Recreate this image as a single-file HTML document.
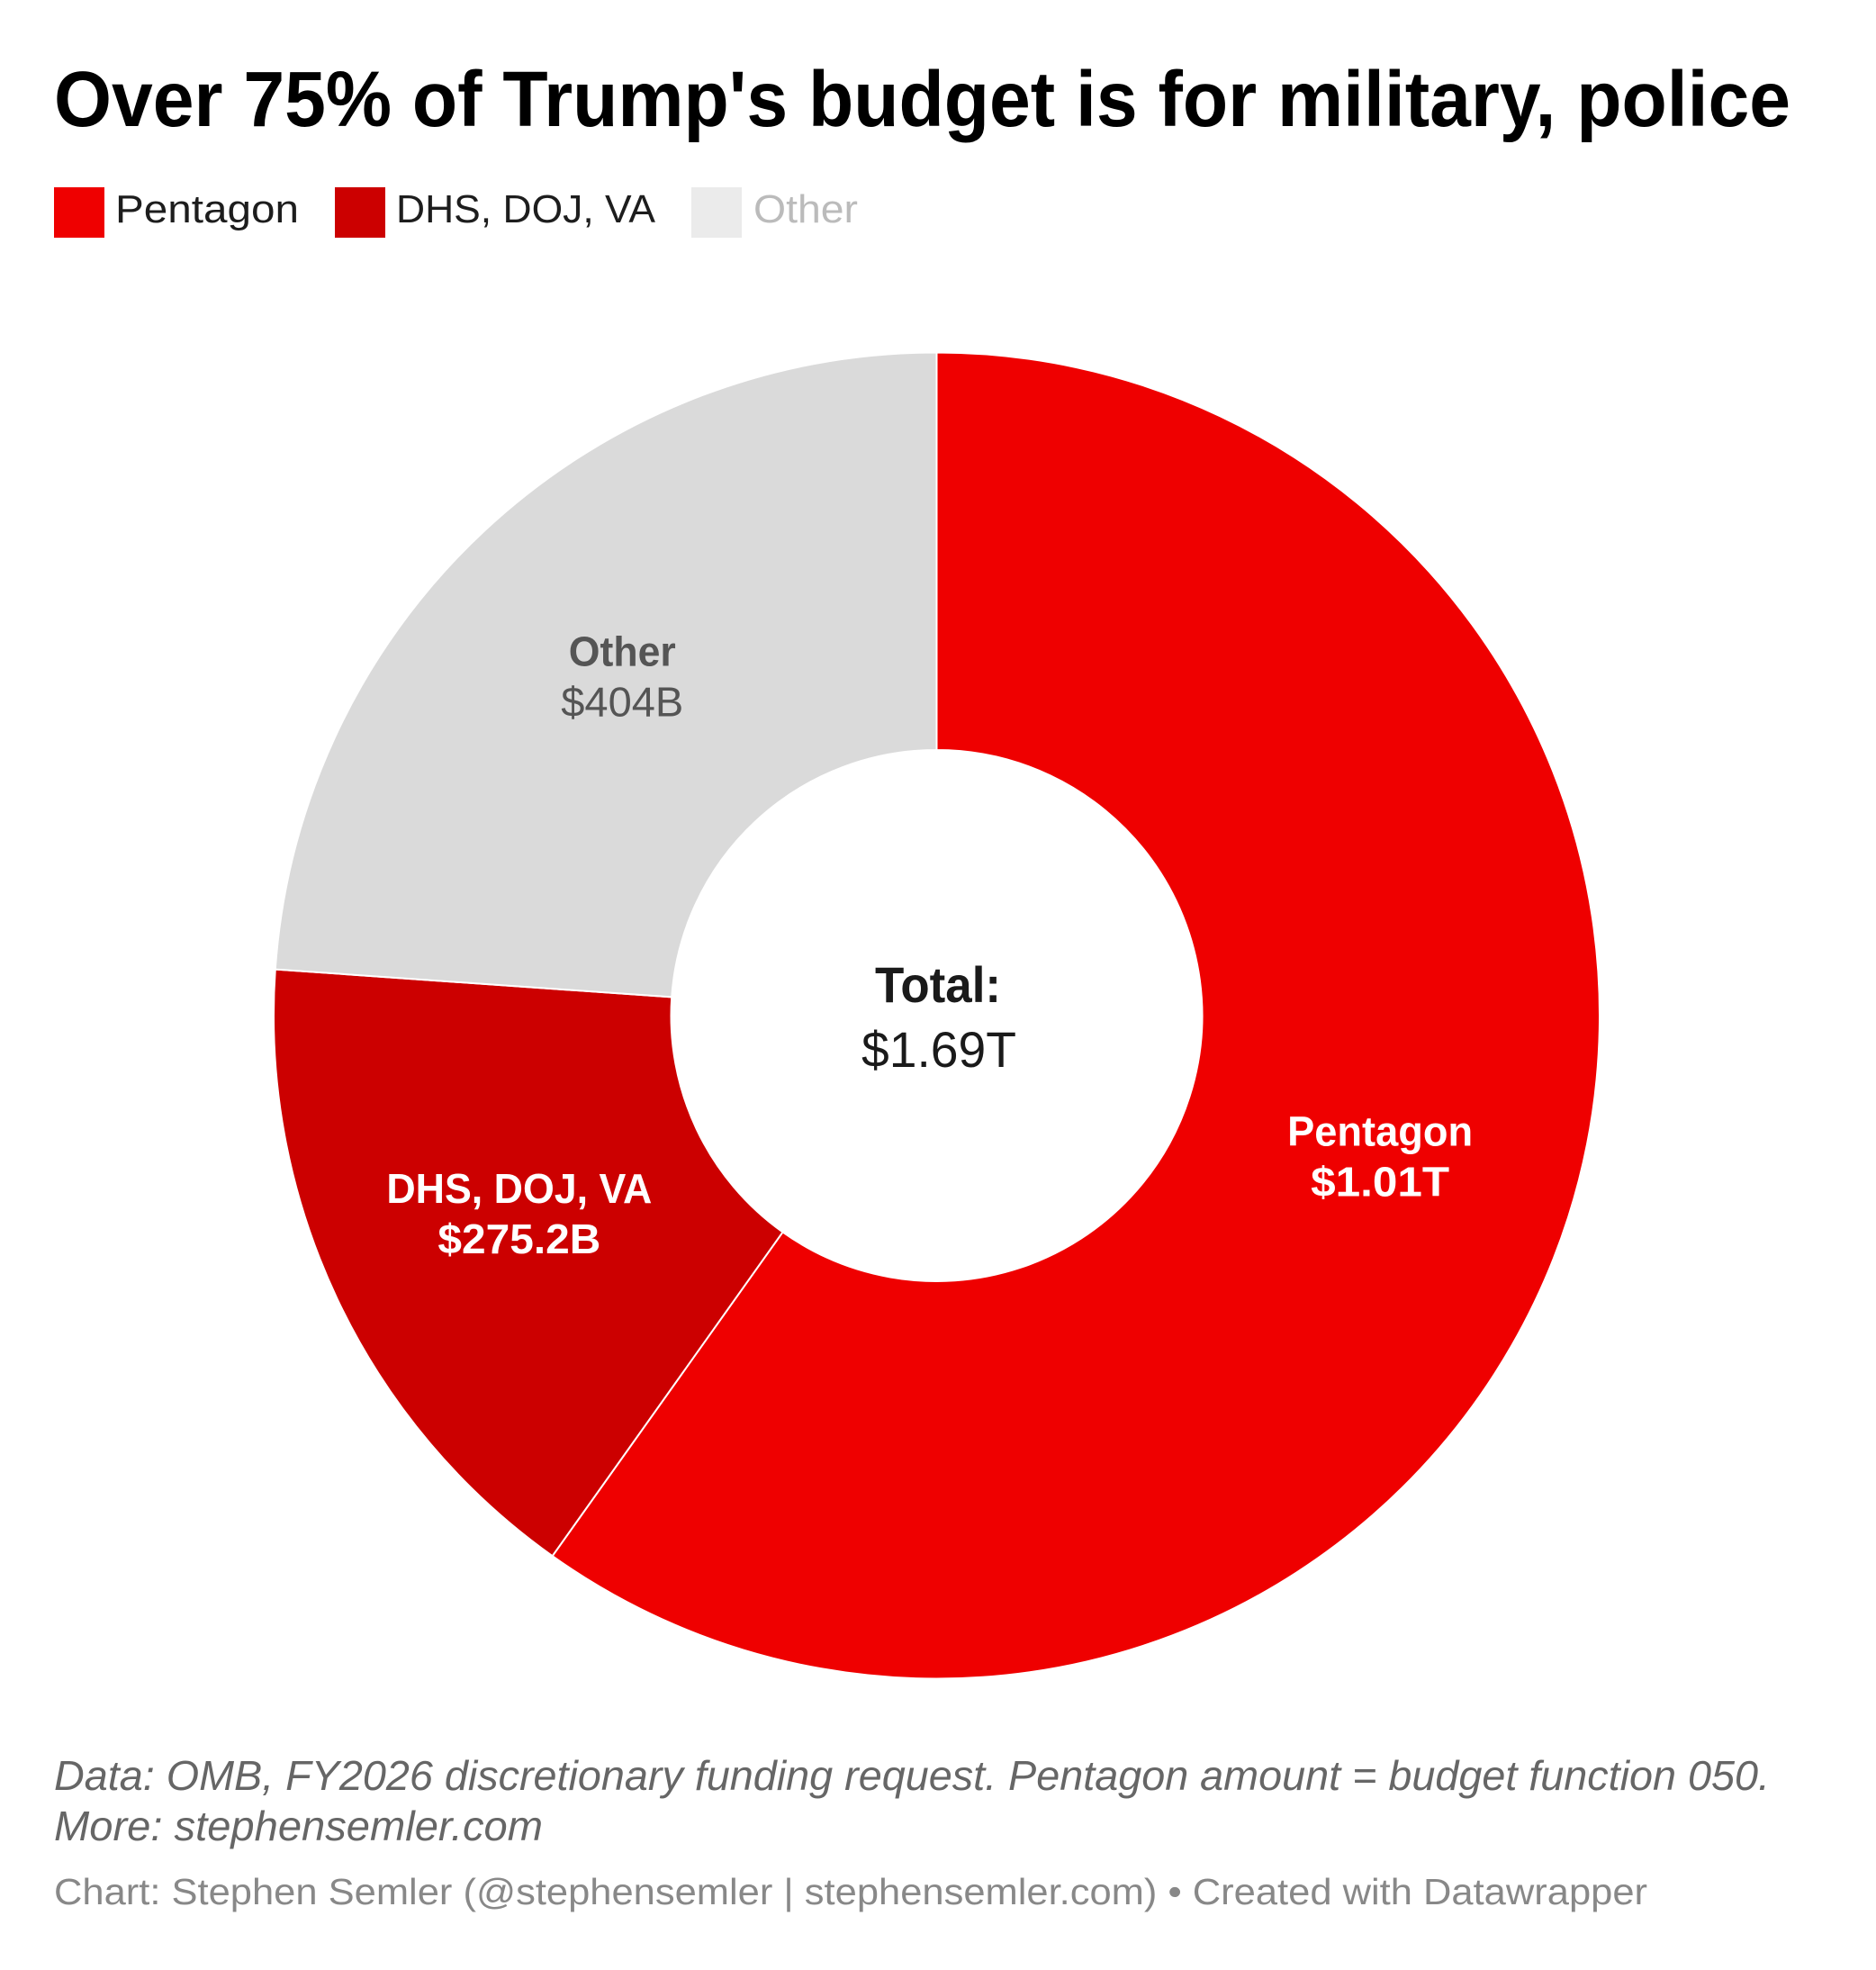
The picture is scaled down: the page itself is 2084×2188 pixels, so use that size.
<!DOCTYPE html>
<html lang="en">
<head>
<meta charset="utf-8">
<title>Over 75% of Trump's budget is for military, police</title>
<style>
html,body{margin:0;padding:0;background:#fff;}
svg{display:block;font-family:"Liberation Sans",Arial,sans-serif;}
</style>
</head>
<body>
<svg id="chart" xmlns="http://www.w3.org/2000/svg" width="2084" height="2188" viewBox="0 0 2084 2188">
<rect width="2084" height="2188" fill="#ffffff"/>
<text x="60" y="140" font-size="87" font-weight="700" fill="#000" textLength="1929" lengthAdjust="spacingAndGlyphs">Over 75% of Trump's budget is for military, police</text>
<g>
<rect x="60" y="208" width="56" height="56" fill="#ef0000"/>
<text x="128" y="247" font-size="44" fill="#1d1d1d" textLength="204" lengthAdjust="spacingAndGlyphs">Pentagon</text>
<rect x="372" y="208" width="56" height="56" fill="#cc0000"/>
<text x="440" y="247" font-size="44" fill="#1d1d1d" textLength="288" lengthAdjust="spacingAndGlyphs">DHS, DOJ, VA</text>
<rect x="768" y="208" width="56" height="56" fill="#ebebeb"/>
<text x="837" y="247" font-size="44" fill="#bbbbbb" textLength="116" lengthAdjust="spacingAndGlyphs">Other</text>
</g>
<g id="slices"></g>
<g id="labels"></g>
<g fill="#1a1a1a" text-anchor="middle" font-size="56">
<text x="1042" y="1113" font-weight="700" textLength="140" lengthAdjust="spacingAndGlyphs">Total:</text>
<text x="1043" y="1185" textLength="172" lengthAdjust="spacingAndGlyphs">$1.69T</text>
</g>
<text x="60" y="1988" font-size="46" font-style="italic" fill="#666666" textLength="1906" lengthAdjust="spacingAndGlyphs">Data: OMB, FY2026 discretionary funding request. Pentagon amount = budget function 050.</text>
<text x="60" y="2044" font-size="46" font-style="italic" fill="#666666" textLength="543" lengthAdjust="spacingAndGlyphs">More: stephensemler.com</text>
<text x="60" y="2115" font-size="41" fill="#888888" textLength="1770" lengthAdjust="spacingAndGlyphs">Chart: Stephen Semler (@stephensemler | stephensemler.com) • Created with Datawrapper</text>
</svg>
<script>
const categories = ["Pentagon", "DHS, DOJ, VA", "Other"];
const seriesValues = [1012, 275.2, 404];
const valueLabels = ["$1.01T", "$275.2B", "$404B"];

const NS = "http://www.w3.org/2000/svg";
const cx = 1040.5, cy = 1128, outerR = 736.5, innerR = 295;
const sliceColors = ["#ef0000", "#cc0000", "#dadada"];
const textColors = ["#ffffff", "#ffffff", "#555555"];
const nameWeights = ["700", "700", "700"];
const valueWeights = ["700", "700", "400"];
const nameFit = [206, 295, 119];
const valueFit = [154, 181, 136];
const labelNudgeX = 2;

function angleScale(v, total) { return v / total * Math.PI * 2; }
function polar(r, a) { return [cx + r * Math.sin(a), cy - r * Math.cos(a)]; }

const total = seriesValues.reduce((s, v) => s + v, 0);
const sliceGroup = document.getElementById("slices");
const labelGroup = document.getElementById("labels");
let cumulative = 0;
seriesValues.forEach((v, i) => {
  const a0 = angleScale(cumulative, total);
  const a1 = angleScale(cumulative + v, total);
  cumulative += v;
  const large = a1 - a0 > Math.PI ? 1 : 0;
  const p0 = polar(outerR, a0), p1 = polar(outerR, a1), p2 = polar(innerR, a1), p3 = polar(innerR, a0);
  const d = "M" + p0[0] + " " + p0[1] +
    "A" + outerR + " " + outerR + " 0 " + large + " 1 " + p1[0] + " " + p1[1] +
    "L" + p2[0] + " " + p2[1] +
    "A" + innerR + " " + innerR + " 0 " + large + " 0 " + p3[0] + " " + p3[1] + "Z";
  const slug = categories[i].toLowerCase().replace(/[^a-z]+/g, "-");
  const path = document.createElementNS(NS, "path");
  path.setAttribute("d", d);
  path.setAttribute("fill", sliceColors[i]);
  path.setAttribute("stroke", "#ffffff");
  path.setAttribute("stroke-width", "2");
  
  
  sliceGroup.appendChild(path);

  const mid = polar(515, (a0 + a1) / 2);
  const nameText = document.createElementNS(NS, "text");
  nameText.textContent = categories[i];
  nameText.setAttribute("x", mid[0] + labelNudgeX);
  nameText.setAttribute("y", mid[1] - 12);
  nameText.setAttribute("text-anchor", "middle");
  nameText.setAttribute("font-size", "46");
  nameText.setAttribute("font-weight", nameWeights[i]);
  nameText.setAttribute("fill", textColors[i]);
  nameText.setAttribute("textLength", nameFit[i]);
  nameText.setAttribute("lengthAdjust", "spacingAndGlyphs");
  
  
  labelGroup.appendChild(nameText);

  const valueText = document.createElementNS(NS, "text");
  valueText.textContent = valueLabels[i];
  valueText.setAttribute("x", mid[0] + labelNudgeX);
  valueText.setAttribute("y", mid[1] + 44);
  valueText.setAttribute("text-anchor", "middle");
  valueText.setAttribute("font-size", "46");
  valueText.setAttribute("font-weight", valueWeights[i]);
  valueText.setAttribute("fill", textColors[i]);
  valueText.setAttribute("textLength", valueFit[i]);
  valueText.setAttribute("lengthAdjust", "spacingAndGlyphs");
  
  
  labelGroup.appendChild(valueText);
});
</script>
</body>
</html>
